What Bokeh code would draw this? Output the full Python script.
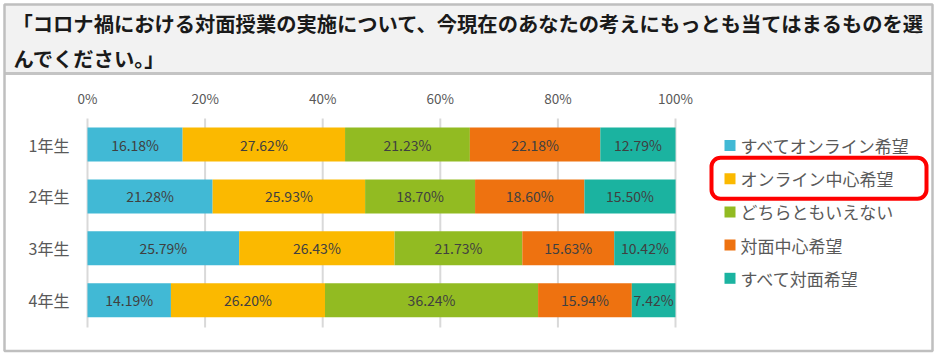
from bokeh.plotting import figure
from bokeh.models import ColumnDataSource, Range1d, BoxAnnotation
from bokeh.core.properties import value
from bokeh.embed import file_html
from bokeh.resources import INLINE

# ---- data ----
grades = ["1年生", "2年生", "3年生", "4年生"]
series_names = ["すべてオンライン希望", "オンライン中心希望", "どちらともいえない", "対面中心希望", "すべて対面希望"]
all_online = [16.18, 21.28, 25.79, 14.19]
mostly_online = [27.62, 25.93, 26.43, 26.20]
neutral = [21.23, 18.70, 21.73, 36.24]
mostly_face = [22.18, 18.60, 15.63, 15.94]
all_face = [12.79, 15.50, 10.42, 7.42]
x_ticks = [0, 20, 40, 60, 80, 100]
x_tick_labels = ["0%", "20%", "40%", "60%", "80%", "100%"]
title_lines = ["「コロナ禍における対面授業の実施について、今現在のあなたの考えにもっとも当てはまるものを選",
               "んでください。」"]
highlighted = "オンライン中心希望"

colors = ["#41b9d5", "#fbb900", "#92bb22", "#ee7210", "#1bb3a0"]
FONT = "Noto Sans CJK JP"
W, H = 938, 355

# layout of the canvas: pixel position of 0%, pixels per percent, first row centre, row pitch
X0, XS = 87.0, 5.88
Y0, YS = 144.0, 51.9


def fx(px):
    return (px - X0) / XS


def fy(py):
    return (py - Y0) / YS


series = [all_online, mostly_online, neutral, mostly_face, all_face]
keys = ["s%d" % i for i in range(len(series))]
rows = list(range(len(grades)))
data = {"row": rows, "grade": grades}
for k, s in zip(keys, series):
    data[k] = s
source = ColumnDataSource(data)

p = figure(width=W, height=H, output_backend="svg", toolbar_location=None,
           x_range=Range1d(fx(0), fx(W)), y_range=Range1d(fy(H), fy(0)),
           x_axis_type=None, y_axis_type=None, min_border=0, title=None)
p.outline_line_color = None
p.background_fill_color = "white"
p.border_fill_color = "white"
p.grid.visible = False

# outer border and header
p.quad(left=[fx(4)], right=[fx(932)], top=[fy(4)], bottom=[fy(72)],
       fill_color="#f2f2f2", line_color=None)
p.quad(left=[fx(4)], right=[fx(932)], top=[fy(71.5)], bottom=[fy(74.5)],
       fill_color="#c4c4c4", line_color=None)
p.quad(left=[fx(4)], right=[fx(932)], top=[fy(4)], bottom=[fy(350.5)],
       fill_color=None, line_color="#bfbfbf", line_width=2.5)
p.text(x=[fx(12), fx(13)], y=[fy(22.5), fy(57.5)], text=title_lines,
       text_font=value(FONT), text_font_size="20.3px", text_font_style="bold",
       text_color="#1a1a1a", text_baseline="middle", text_align="left")

# vertical grid lines across the plotting area
p.segment(x0=x_ticks, x1=x_ticks, y0=[fy(118)] * len(x_ticks), y1=[fy(327)] * len(x_ticks),
          line_color="#d9d9d9", line_width=2)
# tick labels
p.text(x=x_ticks, y=[fy(97.5)] * len(x_ticks), text=x_tick_labels,
       text_font=value(FONT), text_font_size="13.5px", text_color="#595959",
       text_align="center", text_baseline="middle")
# category labels
p.text(x=[fx(69)] * len(grades), y=rows, text=grades,
       text_font=value(FONT), text_font_size="16px", text_color="#595959",
       text_align="right", text_baseline="middle")

# stacked bars
p.hbar_stack(keys, y="row", height=34 / YS, color=colors, line_color=None, source=source)

# value labels in the middle of each segment
tx, ty, tt = [], [], []
for gi in rows:
    cum = 0.0
    for s in series:
        v = s[gi]
        tx.append(cum + v / 2)
        ty.append(gi)
        tt.append("%.2f%%" % v)
        cum += v
p.text(x=tx, y=ty, text=tt, text_align="center", text_baseline="middle",
       text_font=value(FONT), text_font_size="14px", text_color="#404040")

# legend (manual)
ly = [fy(145 + i * 33.2) for i in range(len(series_names))]
p.scatter(x=[fx(729.5)] * len(series_names), y=ly, marker="square", size=11,
          fill_color=colors, line_color=None)
p.text(x=[fx(740)] * len(series_names), y=ly, text=series_names,
       text_font=value(FONT), text_font_size="17px", text_color="#595959",
       text_baseline="middle", text_align="left")
hi = series_names.index(highlighted)
cy = 145 + hi * 33.2
p.add_layout(BoxAnnotation(left=fx(711), right=fx(926), top=fy(cy - 21), bottom=fy(cy + 20),
                           fill_color=None, fill_alpha=0, line_color="#ff0000", line_width=4,
                           line_alpha=1, border_radius=9))

open("out.html", "w").write(file_html(p, INLINE))
